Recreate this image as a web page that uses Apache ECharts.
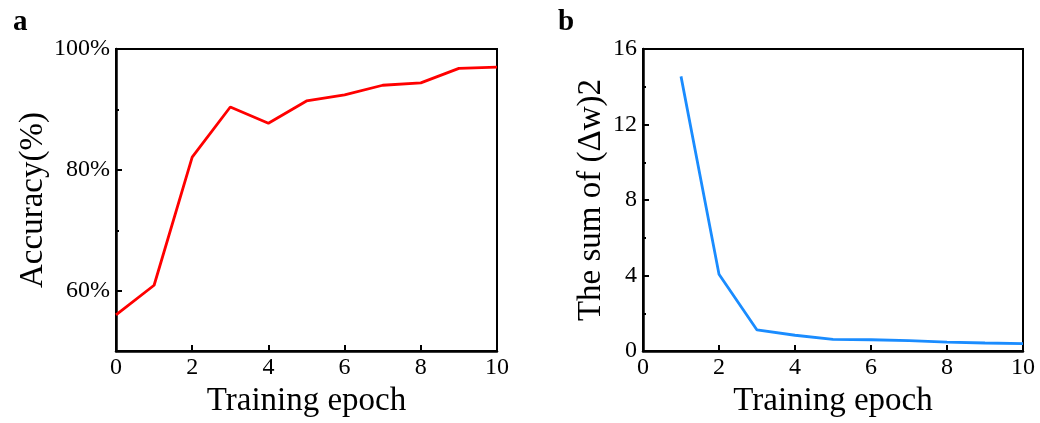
<!DOCTYPE html>
<html>
<head>
<meta charset="utf-8">
<script src="https://cdn.jsdelivr.net/npm/echarts@6/dist/echarts.min.js"></script>
<style>html,body{margin:0;padding:0;background:#fff;}#c{width:1040px;height:423px;}</style>
</head>
<body>
<div id="c"></div>
<script>
// ---- data ----
var epochsA = [0, 1, 2, 3, 4, 5, 6, 7, 8, 9, 10];
var accuracy = [56.0, 60.9, 82.1, 90.4, 87.7, 91.4, 92.4, 94.0, 94.4, 96.8, 97.0];
var epochsB = [1, 2, 3, 4, 5, 6, 7, 8, 9, 10];
var sumDw2 = [14.55, 4.07, 1.12, 0.84, 0.62, 0.60, 0.55, 0.48, 0.43, 0.40];
var xTicks = [0, 2, 4, 6, 8, 10];
var accMajorTicks = [60, 80, 100];
var accMinorTicks = [70, 90];
var dwTicks = [0, 4, 8, 12, 16];

var FONT = 'Liberation Serif';
var seriesA = epochsA.map(function (x, i) { return [x, accuracy[i]]; });
var seriesB = epochsB.map(function (x, i) { return [x, sumDw2[i]]; });

function xAxisCfg(gridIndex) {
  return {
    type: 'value', gridIndex: gridIndex, min: 0, max: 10, interval: 2,
    name: 'Training epoch', nameLocation: 'middle', nameGap: 28,
    nameTextStyle: { fontFamily: FONT, fontSize: 33, color: '#000' },
    axisLine: { show: true, lineStyle: { color: '#000', width: 2.5 } },
    axisTick: { show: true, inside: true, length: 6, customValues: xTicks, lineStyle: { color: '#000', width: 2 } },
    axisLabel: { fontFamily: FONT, fontSize: 24, color: '#000', margin: 5, customValues: xTicks },
    splitLine: { show: false }
  };
}

var chart = echarts.init(document.getElementById('c'), null, { renderer: 'canvas' });
chart.setOption({
  backgroundColor: '#fff',
  animation: false,
  title: [
    { text: 'a', left: 8, top: 3, textStyle: { fontFamily: FONT, fontSize: 29, fontWeight: 'bold', color: '#000' } },
    { text: 'b', left: 553, top: 3, textStyle: { fontFamily: FONT, fontSize: 29, fontWeight: 'bold', color: '#000' } }
  ],
  grid: [
    { left: 116, top: 49, width: 381, height: 303, show: true, borderColor: '#000', borderWidth: 2, backgroundColor: 'transparent' },
    { left: 643, top: 49, width: 380, height: 303, show: true, borderColor: '#000', borderWidth: 2, backgroundColor: 'transparent' }
  ],
  xAxis: [xAxisCfg(0), xAxisCfg(1)],
  yAxis: [
    {
      type: 'value', gridIndex: 0, min: 50, max: 100,
      name: 'Accuracy(%)', nameLocation: 'middle', nameGap: 58,
      nameTextStyle: { fontFamily: FONT, fontSize: 33, color: '#000' },
      axisLine: { show: true, lineStyle: { color: '#000', width: 2.5 } },
      axisTick: { show: true, inside: true, length: 6, customValues: accMajorTicks, lineStyle: { color: '#000', width: 2 } },
      axisLabel: { fontFamily: FONT, fontSize: 24, color: '#000', margin: 6, customValues: accMajorTicks, formatter: '{value}%' },
      splitLine: { show: false }
    },
    {
      type: 'value', gridIndex: 0, min: 50, max: 100, position: 'left',
      axisLine: { show: false },
      axisTick: { show: true, inside: true, length: 3, customValues: accMinorTicks, lineStyle: { color: '#000', width: 2 } },
      axisLabel: { show: false },
      splitLine: { show: false }
    },
    {
      type: 'value', gridIndex: 1, min: 0, max: 16, interval: 4,
      name: 'The sum of (\u0394w)2', nameLocation: 'middle', nameGap: 35,
      nameTextStyle: { fontFamily: FONT, fontSize: 33, color: '#000' },
      axisLine: { show: true, lineStyle: { color: '#000', width: 2.5 } },
      axisTick: { show: true, inside: true, length: 6, customValues: dwTicks, lineStyle: { color: '#000', width: 2 } },
      minorTick: { show: true, splitNumber: 2, length: 3, lineStyle: { color: '#000', width: 2 } },
      axisLabel: { fontFamily: FONT, fontSize: 24, color: '#000', margin: 6, customValues: dwTicks },
      splitLine: { show: false }
    }
  ],
  series: [
    {
      type: 'line', xAxisIndex: 0, yAxisIndex: 0, data: seriesA,
      showSymbol: false, symbol: 'none',
      lineStyle: { color: '#ff0000', width: 2.8 }
    },
    {
      type: 'line', xAxisIndex: 1, yAxisIndex: 2, data: seriesB,
      showSymbol: false, symbol: 'none',
      lineStyle: { color: '#1a8cff', width: 2.8 }
    }
  ]
});
</script>
</body>
</html>
